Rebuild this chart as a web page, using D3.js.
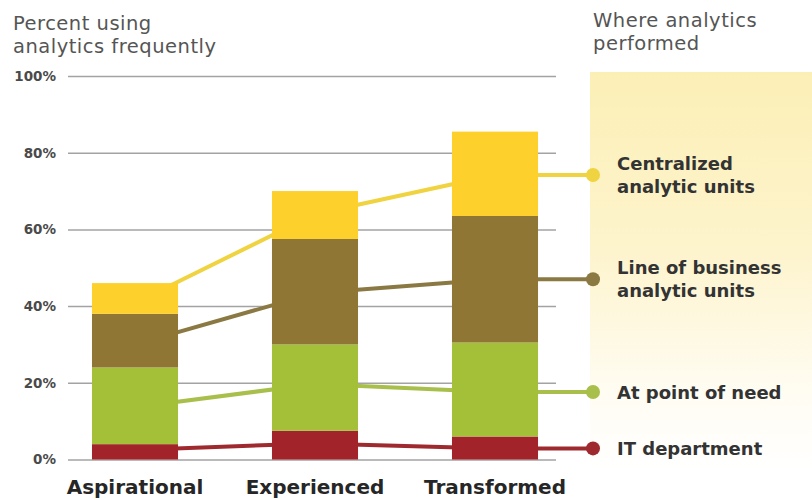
<!DOCTYPE html>
<html>
<head>
<meta charset="utf-8">
<script src="https://cdn.jsdelivr.net/npm/d3@7"></script>
<style>
  html, body { margin: 0; padding: 0; background: #fff; }
  svg { display: block; }
</style>
</head>
<body>
<svg id="chart" width="812" height="500"></svg>
<script>
// ---- data ----
const categories = ["Aspirational", "Experienced", "Transformed"];
const seriesNames = ["IT department", "At point of need", "Line of business analytic units", "Centralized analytic units"];
// stacked bar segments (bottom to top), percent
const itDept      = [4, 7.5, 6];
const pointOfNeed = [20, 22.5, 24.5];
const lineOfBiz   = [14, 27.5, 33];
const centralized = [8, 12.5, 22];
// "where analytics performed" lines, percent
const lineIT          = [2.5, 4.2, 2.9];
const linePointOfNeed = [13.6, 19.7, 17.6];
const lineLineOfBiz   = [30, 43.4, 47];
const lineCentral     = [40.8, 64, 74.2];
const yTicks = [0, 20, 40, 60, 80, 100];
const legendLabels = [
  ["IT department"],
  ["At point of need"],
  ["Line of business", "analytic units"],
  ["Centralized", "analytic units"]
];
const titleLeft = ["Percent using", "analytics frequently"];
const titleRight = ["Where analytics", "performed"];

// ---- styles ----
const barColors  = ["#a2242a", "#a3c038", "#8f7635", "#fdd02b"];
const lineColors = ["#9e2a2f", "#a8bf4c", "#8b7943", "#f0d340"];

const svg = d3.select("#chart");

const defs = svg.append("defs");
const grad = defs.append("linearGradient").attr("id", "panelGrad")
  .attr("x1", 0).attr("y1", 0).attr("x2", 0).attr("y2", 1);
grad.append("stop").attr("offset", "0").attr("stop-color", "#fcefb6");
grad.append("stop").attr("offset", "0.45").attr("stop-color", "#fdf4cd");
grad.append("stop").attr("offset", "0.8").attr("stop-color", "#fffcf2");
grad.append("stop").attr("offset", "1").attr("stop-color", "#ffffff");

// legend panel
svg.append("rect").attr("x", 590).attr("y", 72).attr("width", 222).attr("height", 400)
  .attr("fill", "url(#panelGrad)");

const x = d3.scaleBand().domain(categories).range([45, 585])
  .paddingInner(0.522).paddingOuter(0.261);
const y = d3.scaleLinear().domain([0, 100]).range([459.5, 76]);

// grid + y labels
const yAxis = d3.axisLeft(y).tickValues(yTicks).tickFormat(d => d + "%")
  .tickSize(-488).tickPadding(12);
const gAxis = svg.append("g").attr("transform", "translate(68,0)").call(yAxis);
gAxis.select(".domain").remove();
gAxis.selectAll(".tick line").attr("stroke", "#a3a3a3").attr("stroke-width", 1.5);
gAxis.selectAll(".tick text")
  .attr("fill", "#4a4a4a")
  .style("font-family", "'DejaVu Sans', sans-serif")
  .style("font-size", "13.5px")
  .style("font-weight", "bold");

// lines (behind bars)
const legendX = 593;
const lineSeries = [lineIT, linePointOfNeed, lineLineOfBiz, lineCentral];
const lineGen = d3.line().x(d => d[0]).y(d => d[1]);
lineSeries.forEach((vals, i) => {
  const pts = vals.map((v, j) => [x(categories[j]) + x.bandwidth() / 2, y(v)]);
  pts.push([legendX, y(vals[vals.length - 1])]);
  svg.append("path").attr("d", lineGen(pts)).attr("fill", "none")
    .attr("stroke", lineColors[i]).attr("stroke-width", 4).attr("stroke-linejoin", "round");
  svg.append("circle").attr("cx", legendX).attr("cy", y(vals[vals.length - 1]))
    .attr("r", 7).attr("fill", lineColors[i]);
});

// stacked bars
const rows = categories.map((c, j) => ({
  cat: c, s0: itDept[j], s1: pointOfNeed[j], s2: lineOfBiz[j], s3: centralized[j]
}));
const stack = d3.stack().keys(["s0", "s1", "s2", "s3"]);
const stacked = stack(rows);
svg.append("g").selectAll("g").data(stacked).join("g")
  .attr("fill", (d, i) => barColors[i])
  .selectAll("rect").data(d => d).join("rect")
  .attr("x", d => x(d.data.cat))
  .attr("width", x.bandwidth())
  .attr("y", d => y(d[1]))
  .attr("height", d => y(d[0]) - y(d[1]));

// x labels
svg.append("g").selectAll("text").data(categories).join("text")
  .attr("x", d => x(d) + x.bandwidth() / 2)
  .attr("y", 494)
  .attr("text-anchor", "middle")
  .attr("fill", "#262626")
  .style("font-family", "'DejaVu Sans', sans-serif")
  .style("font-size", "20px")
  .style("font-weight", "bold")
  .text(d => d);

// legend labels
lineSeries.forEach((vals, i) => {
  const cy = y(vals[vals.length - 1]);
  const lines = legendLabels[i];
  const startBase = cy + 6.5 - (lines.length - 1) * 11.5;
  const t = svg.append("text")
    .attr("fill", "#333333")
    .style("font-family", "'DejaVu Sans', sans-serif")
    .style("font-size", "18px")
    .style("font-weight", "bold");
  lines.forEach((l, k) => {
    t.append("tspan").attr("x", 617).attr("y", startBase + k * 23).text(l);
  });
});

// titles
function title(lines, x0, y0) {
  const t = svg.append("text")
    .attr("fill", "#555555")
    .style("font-family", "'DejaVu Sans', sans-serif")
    .style("font-size", "19.5px")
    .style("letter-spacing", "0.5px");
  lines.forEach((l, k) => {
    t.append("tspan").attr("x", x0).attr("y", y0 + k * 23).text(l);
  });
}
title(titleLeft, 13, 30);
title(titleRight, 593, 27);
</script>
</body>
</html>
